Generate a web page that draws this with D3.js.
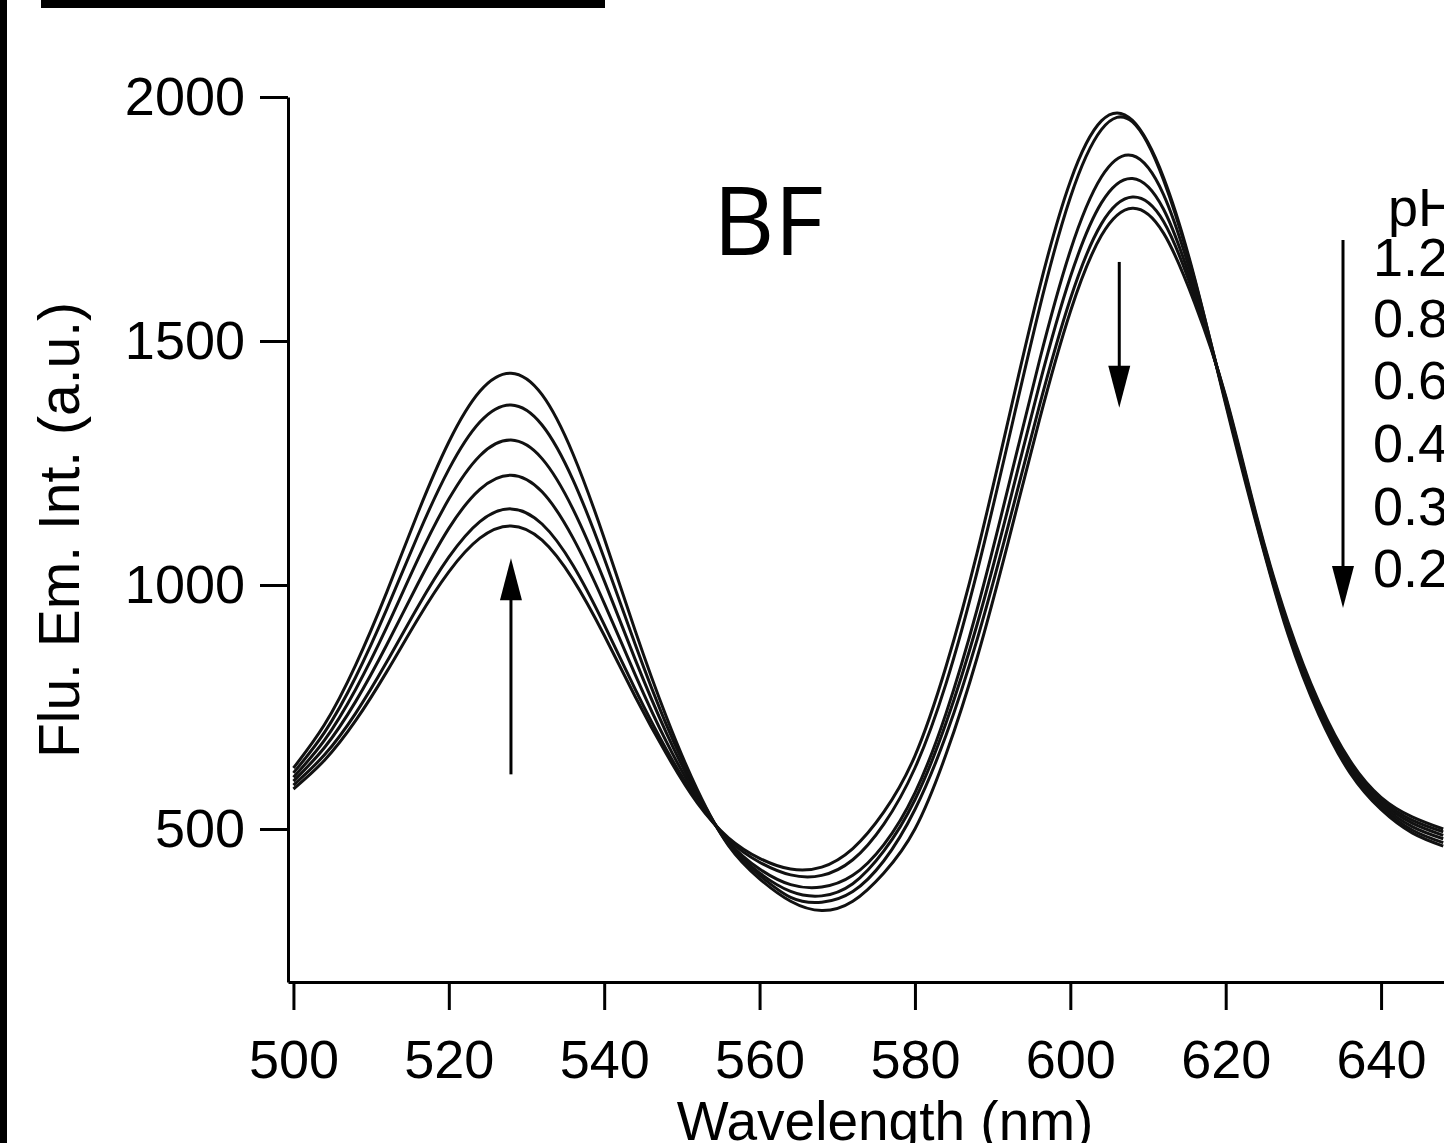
<!DOCTYPE html>
<html><head><meta charset="utf-8">
<script src="https://cdn.jsdelivr.net/npm/d3@7"></script>
<style>
body{margin:0;background:#fff}
svg{display:block}
</style>
</head><body>
<svg id="chart" width="1444" height="1143"></svg>
<script>
// ---- data ----
const wavelengths = [500,504,508,512,516,520,524,528,532,536,540,544,548,552,556,560,564,568,572,576,580,584,588,592,596,600,604,608,612,616,620,624,628,632,636,640,644,648];
const pH_1_2 = [582,641,722,822,930,1027,1096,1121,1092,1011,897,771,654,553,482,440,418,422,460,535,650,833,1066,1337,1607,1827,1951,1952,1835,1629,1370,1122,900,734,615,540,492,465];
const pH_0_8 = [590,652,737,842,955,1057,1130,1156,1125,1040,919,786,663,558,478,432,406,405,437,510,625,798,1027,1294,1565,1794,1933,1949,1830,1625,1374,1126,905,740,620,545,498,472];
const pH_0_6 = [598,667,761,877,1002,1116,1196,1225,1191,1096,963,816,679,564,474,418,386,381,405,468,574,737,950,1200,1458,1685,1836,1880,1800,1612,1377,1130,910,745,625,550,505,480];
const pH_0_4 = [606,682,786,913,1052,1176,1265,1297,1259,1155,1009,847,697,570,471,410,372,363,388,455,560,717,919,1158,1409,1631,1783,1833,1770,1600,1380,1133,915,750,630,555,512,487];
const pH_0_3 = [615,698,811,950,1101,1237,1334,1369,1328,1215,1055,878,714,576,468,405,360,350,372,435,540,692,888,1121,1366,1586,1740,1795,1745,1590,1384,1136,920,755,635,560,518,494];
const pH_0_2 = [625,714,836,985,1147,1293,1397,1434,1390,1268,1096,906,730,580,466,398,352,333,352,410,500,653,851,1088,1337,1560,1716,1772,1721,1578,1387,1140,925,760,640,565,525,500];
const seriesLabels = ["1.2","0.8","0.6","0.4","0.3","0.2"];
const seriesValues = [pH_1_2, pH_0_8, pH_0_6, pH_0_4, pH_0_3, pH_0_2];
const xTickValues = [500,520,540,560,580,600,620,640];
const yTickValues = [500,1000,1500,2000];
const xTitle = "Wavelength (nm)";
const yTitle = "Flu. Em. Int. (a.u.)";
const panelLabel = "BF";
const legendTitle = "pH";
// annotation arrows in data units: [x, yFrom, yTo]
const arrowLeftPeak = [528, 612, 1055];
const arrowRightPeak = [606.3, 1662, 1363];
const arrowLegend = [635.1, 1707, 953];

// ---- drawing ----
const svg = d3.select("#chart");
svg.append("rect").attr("width",1444).attr("height",1143).attr("fill","#fff");

const x = d3.scaleLinear().domain([499.3, 648.1]).range([288, 1444]);
const y = d3.scaleLinear().domain([186.5, 2000]).range([982, 97]);

const FONT = "'Liberation Sans', Arial, Helvetica, sans-serif";

// frame fragments of the source figure
svg.append("rect").attr("x",0).attr("y",0).attr("width",7).attr("height",1143).attr("fill","#000");
svg.append("rect").attr("x",41).attr("y",0).attr("width",564).attr("height",8).attr("fill","#000");

svg.append("defs").append("clipPath").attr("id","plotclip")
  .append("rect").attr("x",289).attr("y",60).attr("width",1160).attr("height",922);

// curves
const line = d3.line()
  .x((d,i)=>x(wavelengths[i]))
  .y(d=>y(d))
  .curve(d3.curveNatural);

svg.append("g").attr("clip-path","url(#plotclip)")
  .selectAll("path").data(seriesValues).join("path")
  .attr("d", d=>line(d))
  .attr("fill","none")
  .attr("stroke","#111")
  .attr("stroke-width",3)
  .attr("stroke-linejoin","round");

// axes
const xAxis = d3.axisBottom(x).tickValues(xTickValues).tickSize(28).tickSizeOuter(0).tickPadding(30).tickFormat(d3.format("d"));
const yAxis = d3.axisLeft(y).tickValues(yTickValues).tickSize(28).tickSizeOuter(0).tickPadding(15).tickFormat(d3.format("d"));

const gx = svg.append("g").attr("transform","translate(0,982)").call(xAxis);
const gy = svg.append("g").attr("transform","translate(288,0)").call(yAxis);
[gx, gy].forEach(g=>{
  g.select(".domain").attr("stroke","#000").attr("stroke-width",3);
  g.selectAll(".tick line").attr("stroke","#000").attr("stroke-width",3);
  g.selectAll("text").attr("font-family",FONT).attr("font-size",54).attr("fill","#000");
});

// axis titles
svg.append("text").attr("x", 885).attr("y", 1140)
  .attr("text-anchor","middle").attr("font-family",FONT).attr("font-size",55)
  .text(xTitle);
svg.append("text").attr("transform","translate(79,530) rotate(-90)")
  .attr("text-anchor","middle").attr("font-family",FONT).attr("font-size",57)
  .text(yTitle);

// panel label
svg.append("text").attr("x",713).attr("y",255)
  .attr("font-family","'Open Sans', 'Noto Sans', sans-serif").attr("font-size",95)
  .text(panelLabel);

// legend
svg.append("text").attr("x",1388).attr("y",226)
  .attr("font-family",FONT).attr("font-size",54).text(legendTitle);
const legendBase = [276,337,399,462,525,587];
svg.append("g").selectAll("text").data(seriesLabels).join("text")
  .attr("x",1373).attr("y",(d,i)=>legendBase[i])
  .attr("font-family",FONT).attr("font-size",54).text(d=>d);

// arrows
function arrow([ax, y0, y1]){
  const px = x(ax), py0 = y(y0), py1 = y(y1);
  const dir = py1 > py0 ? 1 : -1;
  const headLen = 42, headHalf = 11;
  svg.append("line").attr("x1",px).attr("x2",px).attr("y1",py0).attr("y2",py1 - dir*headLen*0.8)
    .attr("stroke","#000").attr("stroke-width",3);
  svg.append("path")
    .attr("d",`M${px},${py1} L${px-headHalf},${py1-dir*headLen} L${px+headHalf},${py1-dir*headLen} Z`)
    .attr("fill","#000");
}
arrow(arrowLeftPeak);
arrow(arrowRightPeak);
arrow(arrowLegend);
</script>
</body></html>
